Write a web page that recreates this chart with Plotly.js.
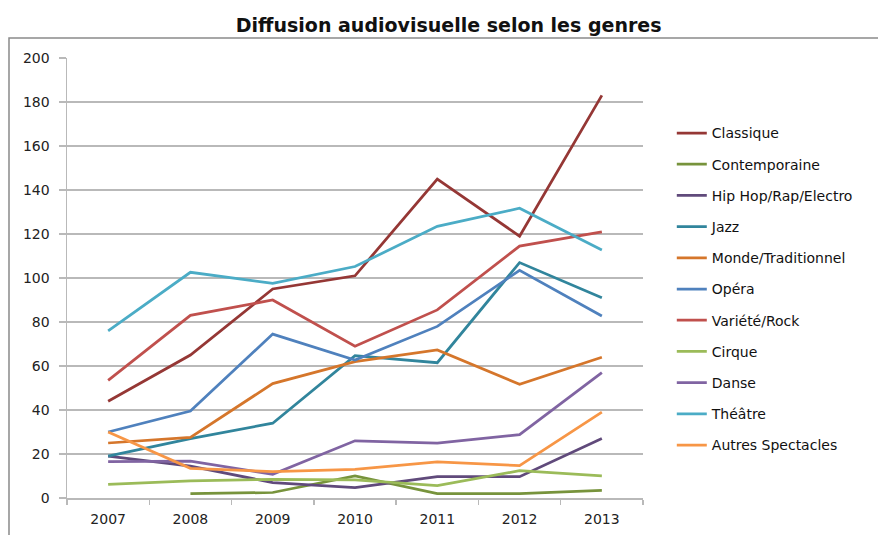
<!DOCTYPE html>
<html>
<head>
<meta charset="utf-8">
<script src="https://cdn.plot.ly/plotly-3.0.1.min.js"></script>
<style>
  html, body { margin: 0; padding: 0; background: #fff; }
  #chart { width: 878px; height: 535px; }
</style>
</head>
<body>
<div id="chart"></div>
<script>
// years on the category axis
var years = ['2007', '2008', '2009', '2010', '2011', '2012', '2013'];

// values
var classique      = [44, 65, 95, 101, 145, 119, 183];
var contemporaine  = [null, 2, 2.5, 10, 2, 2, 3.5];
var hipHop         = [19, 14.5, 7, 4.7, 9.7, 9.7, 27];
var jazz           = [19, 27, 34, 64.7, 61.5, 107, 91];
var monde          = [25, 27.6, 52, 62, 67.3, 51.7, 64];
var opera          = [30, 39.5, 74.5, 62.7, 78, 103.5, 82.7];
var variete        = [53.5, 83, 90, 69, 85.5, 114.5, 121];
var cirque         = [6.2, 7.8, 8.5, 8.2, 5.6, 12.4, 10.1];
var danse          = [16.5, 16.8, 10.8, 26, 25, 28.8, 57];
var theatre        = [76, 102.6, 97.6, 105.2, 123.5, 131.7, 112.7];
var autres         = [30, 13.5, 12, 13, 16.4, 14.7, 39];

var names = ['Classique', 'Contemporaine', 'Hip Hop/Rap/Electro', 'Jazz',
             'Monde/Traditionnel', 'Opéra', 'Variété/Rock', 'Cirque',
             'Danse', 'Théâtre', 'Autres Spectacles'];
var series = [classique, contemporaine, hipHop, jazz, monde, opera,
              variete, cirque, danse, theatre, autres];
var colors = ['#953735', '#77933C', '#604A7B', '#31859C', '#D5762B',
              '#4F81BD', '#C0504D', '#9BBB59', '#8064A2', '#4BACC6', '#F79646'];

var data = series.map(function(vals, i){
    return {
        x: years,
        y: vals,
        name: names[i],
        legendgroup: 'g' + i,
        type: 'scatter',
        mode: 'lines',
        connectgaps: false,
        line: {color: colors[i], width: 2.75}
    };
});

var gridCol = '#b9b9b9';
var layout = {
    width: 878,
    height: 535,
    margin: {l: 67, r: 235, t: 58, b: 37},
    paper_bgcolor: '#fff',
    plot_bgcolor: '#fff',
    font: {family: 'DejaVu Sans, sans-serif', size: 14, color: '#1a1a1a'},
    title: {
        text: '<b>Diffusion audiovisuelle selon les genres</b>',
        font: {family: 'DejaVu Sans, sans-serif', size: 19, color: '#111'},
        x: 0.511, xref: 'container', xanchor: 'center',
        y: 0.952, yref: 'container', yanchor: 'middle'
    },
    showlegend: true,
    legend: {
        x: 1.05, xanchor: 'left',
        y: 0.865, yanchor: 'top',
        traceorder: 'grouped',
        tracegroupgap: 10,
        font: {size: 14, color: '#111'},
        bgcolor: 'rgba(0,0,0,0)'
    },
    xaxis: {
        type: 'category',
        range: [-0.5, 6.5],
        showline: true, linecolor: gridCol, linewidth: 1.5,
        ticks: 'outside', tickson: 'boundaries', ticklen: 5,
        tickcolor: gridCol, tickwidth: 1.5,
        showgrid: false, zeroline: false,
        ticklabelstandoff: 8,
        tickfont: {size: 14, color: '#222'}
    },
    yaxis: {
        range: [0, 200],
        dtick: 20,
        showline: true, linecolor: gridCol, linewidth: 1.5,
        ticks: 'outside', ticklen: 7, tickcolor: gridCol, tickwidth: 1.5,
        showgrid: true, gridcolor: gridCol, gridwidth: 1.5,
        zeroline: false,
        ticklabelstandoff: 6,
        tickfont: {size: 14, color: '#222'}
    },
    shapes: [{
        // outer chart frame, runs off the right and bottom edges
        type: 'rect', xref: 'paper', yref: 'paper',
        x0: -0.1007, x1: 1.42, y0: -0.2, y1: 1.0455,
        line: {color: '#8a8a8a', width: 1.5},
        layer: 'below'
    }]
};

Plotly.newPlot('chart', data, layout, {displayModeBar: false, staticPlot: true});
</script>
</body>
</html>
